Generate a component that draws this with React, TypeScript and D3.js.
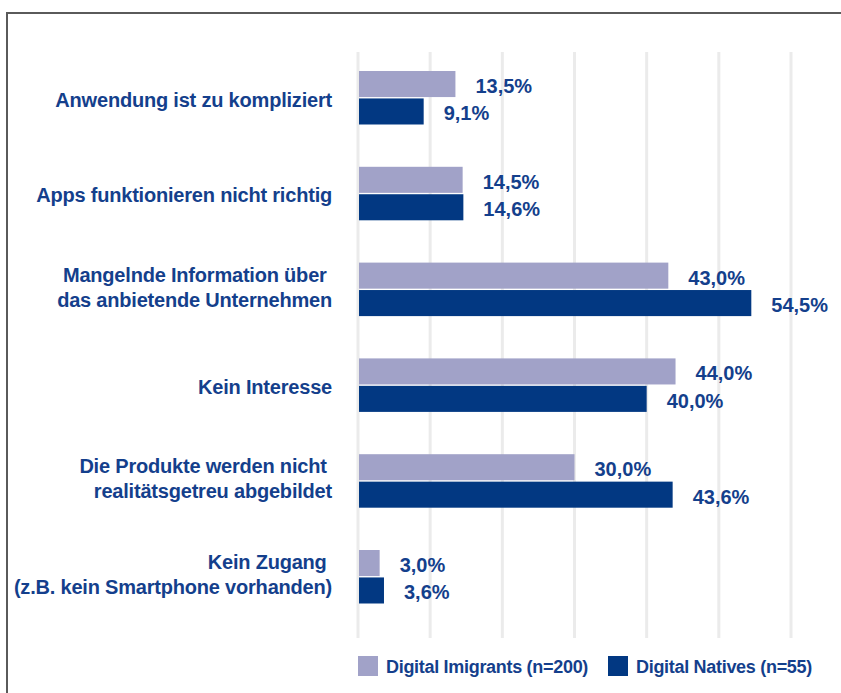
import React from "react";
import * as d3 from "d3";

const categories: string[][] = [
  ["Anwendung ist zu kompliziert"],
  ["Apps funktionieren nicht richtig"],
  ["Mangelnde Information über ", "das anbietende Unternehmen"],
  ["Kein Interesse"],
  ["Die Produkte werden nicht ", "realitätsgetreu abgebildet"],
  ["Kein Zugang ", "(z.B. kein Smartphone vorhanden)"],
];
const immigrants: number[] = [13.5, 14.5, 43.0, 44.0, 30.0, 3.0];
const natives: number[] = [9.1, 14.6, 54.5, 40.0, 43.6, 3.6];
const seriesNames: string[] = ["Digital Imigrants (n=200)", "Digital Natives (n=55)"];
const gridTicks: number[] = [0, 10, 20, 30, 40, 50, 60];

const W = 841;
const H = 693;
const LIGHT = "#a1a2c8";
const DARK = "#023882";
const TEXT = "#143f8c";
const FONT = "'Liberation Sans', Arial, Helvetica, sans-serif";

export default function App() {
  const x = d3.scaleLinear().domain([0, 60]).range([358, 791]);
  const y = d3
    .scaleBand<number>()
    .domain(categories.map((_, i) => i))
    .range([49.6, 624.4])
    .paddingInner(0);
  const sub = d3.scaleBand<number>().domain([0, 1]).range([-26.5, 27]).paddingInner(0.05);
  const fmt = (v: number) => v.toFixed(1).replace(".", ",") + "%";

  return (
    <svg
      width={W}
      height={H}
      style={{ position: "absolute", left: 0, top: 0, background: "#fff" }}
      fontFamily={FONT}
    >
      <rect x={0} y={0} width={W} height={H} fill="#fff" />
      {/* frame */}
      <path d={`M7,${H + 5} V13 H${W + 5}`} fill="none" stroke="#5a5a5a" strokeWidth={2} />
      {/* gridlines */}
      {gridTicks.map((t) => (
        <line key={t} x1={x(t)} x2={x(t)} y1={52} y2={638} stroke="#ebebeb" strokeWidth={3} />
      ))}
      {categories.map((lines, i) => {
        const c = (y(i) as number) + y.bandwidth() / 2;
        const vals = [immigrants[i], natives[i]];
        return (
          <g key={i}>
            {vals.map((v, s) => {
              const by = c + (sub(s) as number);
              const bh = sub.bandwidth();
              return (
                <g key={s}>
                  <rect x={x(0) + 1} y={by} width={x(v) - x(0) - 1} height={bh} fill={s === 0 ? LIGHT : DARK} />
                  <text
                    x={x(v) + 20}
                    y={by + bh / 2 + 9}
                    fill={TEXT}
                    fontSize={20}
                    fontWeight="bold"
                  >
                    {fmt(v)}
                  </text>
                </g>
              );
            })}
            {lines.length === 1 ? (
              <text
                x={332}
                y={c + 9}
                textAnchor="end"
                fill={TEXT}
                fontSize={20}
                fontWeight="bold"
                letterSpacing={-0.2}
              >
                {lines[0]}
              </text>
            ) : (
              lines.map((ln, k) => (
                <text
                  key={k}
                  x={332}
                  y={c - 7.5 + k * 25}
                  textAnchor="end"
                  fill={TEXT}
                  fontSize={20}
                  fontWeight="bold"
                  letterSpacing={-0.2}
                  style={{ whiteSpace: "pre" }}
                >
                  {ln}
                </text>
              ))
            )}
          </g>
        );
      })}
      {/* legend */}
      {seriesNames.map((n, s) => {
        const lx = s === 0 ? 358 : 608;
        return (
          <g key={n}>
            <rect x={lx} y={656} width={20} height={20} fill={s === 0 ? LIGHT : DARK} />
            <text x={lx + 28} y={672.5} fill={TEXT} fontSize={18} fontWeight="bold" letterSpacing={-0.3}>
              {n}
            </text>
          </g>
        );
      })}
    </svg>
  );
}
